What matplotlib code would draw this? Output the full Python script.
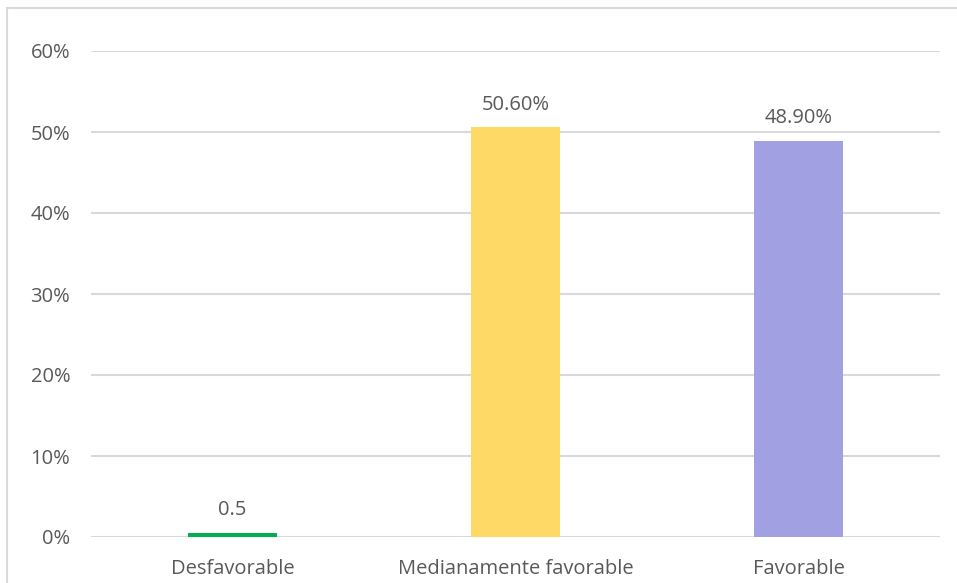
import matplotlib
matplotlib.use("Agg")
import matplotlib.pyplot as plt
from matplotlib.patches import Rectangle

categories = ["Desfavorable", "Medianamente favorable", "Favorable"]
values = [0.5, 50.6, 48.9]
value_labels = ["0.5", "50.60%", "48.90%"]
colors = ["#00B050", "#FFD966", "#A0A0E2"]
yticks = [0, 10, 20, 30, 40, 50, 60]
ytick_labels = ["0%", "10%", "20%", "30%", "40%", "50%", "60%"]

plt.rcParams["font.family"] = ["Open Sans", "DejaVu Sans"]
text_color = "#595959"
grid_color = "#D9D9D9"
fs = 14.5

W, H = 957, 583
fig = plt.figure(figsize=(W / 100, H / 100), dpi=100)

# chart-area frame
fig.patches.append(Rectangle((7 / W, -0.05), 1.2, 1 - 8 / H + 0.05,
                             transform=fig.transFigure, fill=False,
                             edgecolor=grid_color, linewidth=1.5))

ax = fig.add_axes([91 / W, 1 - 537 / H, (940 - 91) / W, (537 - 51) / H])
x = list(range(len(categories)))
ax.bar(x, values, width=0.318, color=colors, zorder=3)
ax.set_xlim(-0.5, 2.5)
ax.set_ylim(0, 60)
ax.set_yticks(yticks)
ax.set_yticklabels(ytick_labels)
ax.set_xticks(x)
ax.set_xticklabels(categories)
ax.tick_params(axis="both", length=0, labelsize=fs, colors=text_color)
ax.tick_params(axis="y", pad=15)
ax.tick_params(axis="x", pad=16)
for s in ax.spines.values():
    s.set_visible(False)
ax.grid(axis="y", color=grid_color, linewidth=1.5, zorder=0)

for xi, v, lab in zip(x, values, value_labels):
    ax.annotate(lab, (xi, v), xytext=(0, 9), textcoords="offset points",
                ha="center", va="bottom", fontsize=fs, color=text_color)

fig.savefig("out.png", dpi=100)
